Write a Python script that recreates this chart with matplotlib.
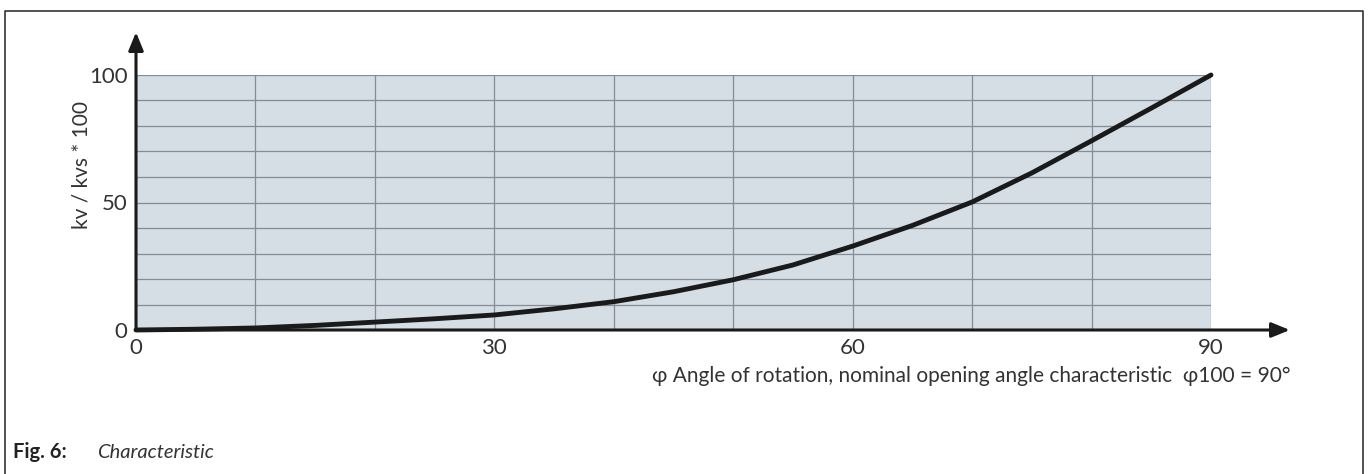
import matplotlib.pyplot as plt
from matplotlib.lines import Line2D

# characteristic (every 5 degrees)
angle = [0, 5, 10, 15, 20, 25, 30, 35, 40, 45, 50, 55, 60, 65, 70, 75, 80, 85, 90]
kv_kvs = [0, 0.3, 0.8, 1.8, 3.1, 4.4, 5.9, 8.3, 11.1, 15.0, 19.7, 25.5, 32.9,
          41.0, 50.2, 61.6, 74.2, 87.0, 100]

x_grid = list(range(0, 91, 10))
y_grid = list(range(0, 101, 10))
x_labels = ["0", "", "", "30", "", "", "60", "", "", "90"]
y_labels = ["0", "", "", "", "", "50", "", "", "", "", "100"]

plt.rcParams["font.family"] = ["Lato", "DejaVu Sans"]
txt = "#333333"

W, H = 1370, 474
fig = plt.figure(figsize=(W / 100, H / 100), dpi=100)
ax = fig.add_axes([136 / W, (H - 330) / H, 1075 / W, 255 / H])
ax.set_facecolor("#d5dde5")
ax.set_xlim(0, 90)
ax.set_ylim(0, 100)

ax.set_xticks(x_grid)
ax.set_xticklabels(x_labels)
ax.set_yticks(y_grid)
ax.set_yticklabels(y_labels)
ax.tick_params(length=0, labelsize=16, labelcolor=txt, pad=6)
ax.grid(True, color="#858c95", linewidth=0.9)
for s in ax.spines.values():
    s.set_visible(False)

ax.plot(angle, kv_kvs, color="#1a1a1a", linewidth=3.5, solid_capstyle="round",
        solid_joinstyle="round", zorder=4, clip_on=False)

# axis arrows
ax.annotate("", xy=(96.6, 0), xytext=(0, 0), annotation_clip=False,
            arrowprops=dict(arrowstyle="-|>,head_length=1.1,head_width=0.45",
                            color="#1a1a1a", lw=2.2, shrinkA=0, shrinkB=0), zorder=5)
ax.annotate("", xy=(0, 116.8), xytext=(0, 0), annotation_clip=False,
            arrowprops=dict(arrowstyle="-|>,head_length=1.1,head_width=0.45",
                            color="#1a1a1a", lw=2.2, shrinkA=0, shrinkB=0), zorder=5)

fig.text(82 / W, 1 - 165 / H, "kv / kvs * 100", rotation=90, ha="center", va="center",
         fontsize=15, color=txt)
fig.text(1290 / W, 1 - 376 / H,
         "\u03c6 Angle of rotation, nominal opening angle characteristic  \u03c6100 = 90\u00b0",
         ha="right", va="center", fontsize=15, color=txt)

fig.text(13 / W, 1 - 452 / H, "Fig. 6:", ha="left", va="center", fontsize=14.5,
         fontweight="bold", color="#222222")
fig.text(97 / W, 1 - 452 / H, "Characteristic", ha="left", va="center", fontsize=14.5,
         fontstyle="italic", color=txt)

# page frame (no bottom edge visible)
fig.add_artist(Line2D([5 / W, 5 / W, 1363 / W, 1363 / W],
                      [0, 1 - 11 / H, 1 - 11 / H, 0],
                      transform=fig.transFigure, color="#333333", linewidth=1.2))

fig.savefig("out.png", dpi=100)
